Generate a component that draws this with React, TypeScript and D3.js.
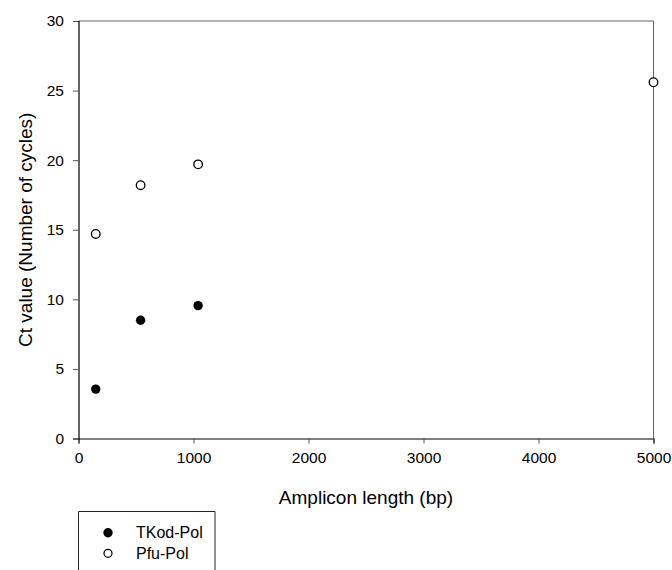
import React, { useRef, useEffect } from "react";
import * as d3 from "d3";

// amplicon lengths (bp)
const tkodX = [150, 540, 1040];
const tkodY = [3.55, 8.5, 9.55];
const pfuX = [150, 540, 1040, 5000];
const pfuY = [14.7, 18.2, 19.7, 25.6];

const xTicks = [0, 1000, 2000, 3000, 4000, 5000];
const yTicks = [0, 5, 10, 15, 20, 25, 30];
const legendLabels = ["TKod-Pol", "Pfu-Pol"];

const width = 672;
const height = 570;
const font = "'Liberation Sans', Arial, sans-serif";

function App() {
  const svgRef = useRef<SVGSVGElement>(null);

  useEffect(() => {
    const svg = d3.select(svgRef.current);
    svg.selectAll("*").remove();

    const left = 78.5;
    const right = 653.5;
    const top = 21;
    const bottom = 438.5;

    // Scales
    const x = d3.scaleLinear().domain([0, 5000]).range([left, right]);
    const y = d3.scaleLinear().domain([0, 30]).range([bottom, top]);

    // frame: top and right in grey
    svg
      .append("line")
      .attr("x1", left)
      .attr("x2", right)
      .attr("y1", top)
      .attr("y2", top)
      .attr("stroke", "#666")
      .attr("stroke-width", 1);
    svg
      .append("line")
      .attr("x1", right)
      .attr("x2", right)
      .attr("y1", top)
      .attr("y2", bottom)
      .attr("stroke", "#666")
      .attr("stroke-width", 1);

    // Axes
    const xAxis = d3
      .axisBottom(x)
      .tickValues(xTicks)
      .tickSize(5)
      .tickPadding(8)
      .tickFormat(d3.format("d"));
    const gx = svg
      .append("g")
      .attr("transform", `translate(0,${bottom})`)
      .call(xAxis);

    const yAxis = d3
      .axisLeft(y)
      .tickValues(yTicks)
      .tickSize(5.5)
      .tickPadding(9)
      .tickFormat(d3.format("d"));
    const gy = svg.append("g").attr("transform", `translate(${left},0)`).call(yAxis);

    [gx, gy].forEach((g) => {
      g.select(".domain").attr("stroke", "#000").attr("stroke-width", 1.2);
      g.selectAll(".tick line").attr("stroke", "#555");
      g.selectAll(".tick text")
        .attr("fill", "#000")
        .attr("font-family", font)
        .attr("font-size", "15.5px");
    });

    // Axis titles
    svg
      .append("text")
      .attr("x", (left + right) / 2)
      .attr("y", 504)
      .attr("text-anchor", "middle")
      .attr("font-family", font)
      .attr("font-size", "19px")
      .text("Amplicon length (bp)");

    svg
      .append("text")
      .attr("transform", `translate(32,${(top + bottom) / 2}) rotate(-90)`)
      .attr("text-anchor", "middle")
      .attr("font-family", font)
      .attr("font-size", "19px")
      .text("Ct value (Number of cycles)");

    // Points
    svg
      .selectAll(".tkod")
      .data(tkodX)
      .join("circle")
      .attr("class", "tkod")
      .attr("cx", (d) => x(d))
      .attr("cy", (d, i) => y(tkodY[i]))
      .attr("r", 4.7)
      .attr("fill", "#000");

    svg
      .selectAll(".pfu")
      .data(pfuX)
      .join("circle")
      .attr("class", "pfu")
      .attr("cx", (d) => x(d))
      .attr("cy", (d, i) => y(pfuY[i]))
      .attr("r", 4.3)
      .attr("fill", "#fff")
      .attr("stroke", "#000")
      .attr("stroke-width", 1.3);

    // Legend
    const lg = svg.append("g");
    lg.append("path")
      .attr("d", `M78.5,${height + 2}V511.5H215V${height + 2}`)
      .attr("fill", "none")
      .attr("stroke", "#222")
      .attr("stroke-width", 1);

    legendLabels.forEach((label, i) => {
      const cy = 532.7 + i * 20.6;
      lg.append("circle")
        .attr("cx", 108)
        .attr("cy", cy)
        .attr("r", i === 0 ? 4.7 : 4)
        .attr("fill", i === 0 ? "#000" : "#fff")
        .attr("stroke", "#000")
        .attr("stroke-width", i === 0 ? 0 : 1.2);
      lg.append("text")
        .attr("x", 136)
        .attr("y", cy)
        .attr("dy", "0.36em")
        .attr("font-family", font)
        .attr("font-size", "16px")
        .text(label);
    });
  }, []);

  return (
    <svg
      ref={svgRef}
      width={width}
      height={height}
      style={{ position: "absolute", left: 0, top: 0, background: "#fff" }}
    />
  );
}

export default App;
